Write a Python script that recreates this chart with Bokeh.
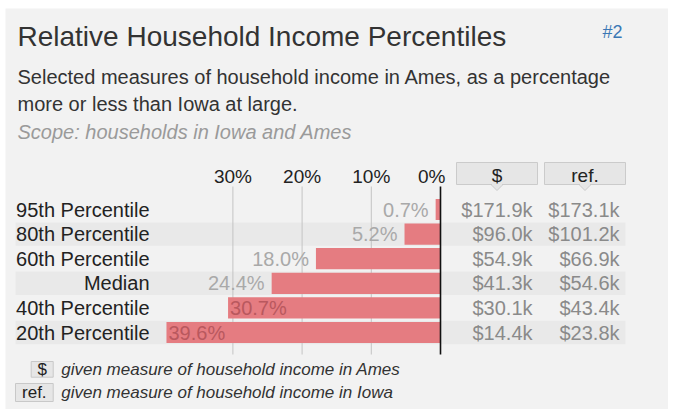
from bokeh.plotting import figure
from bokeh.models import Range1d, Label, ColumnDataSource
from bokeh.core.properties import value
from bokeh.embed import file_html
from bokeh.resources import INLINE

# ---------------- data ----------------
categories = ["95th Percentile", "80th Percentile", "60th Percentile",
              "Median", "40th Percentile", "20th Percentile"]
pct_less = [0.7, 5.2, 18.0, 24.4, 30.7, 39.6]          # % Ames below Iowa
ames_k = [171.9, 96.0, 54.9, 41.3, 30.1, 14.4]           # $ thousands, Ames
iowa_k = [173.1, 101.2, 66.9, 54.6, 43.4, 23.8]          # $ thousands, Iowa
ticks = [30, 20, 10, 0]

# ---------------- layout constants ----------------
W, H = 668, 409
ZERO_PX = 440.0
PX_PER_PCT = 6.92
ROW0_PY = 209.0
ROW_PX = 24.6
FONT = "Liberation Sans"
BG = "#f2f2f2"


def px2x(px):
    return (ZERO_PX - px) / PX_PER_PCT


def py2y(py):
    return (py - ROW0_PY) / ROW_PX


p = figure(width=W, height=H, output_backend="svg", toolbar_location=None,
           x_range=Range1d(px2x(0), px2x(W)), y_range=Range1d(py2y(H), py2y(0)),
           x_axis_type=None, y_axis_type=None, min_border=0,
           background_fill_color="white", border_fill_color="white", outline_line_color=None)
p.grid.visible = False

# panel
p.quad(left=px2x(5), right=px2x(W), top=py2y(8), bottom=py2y(H),
       fill_color=BG, line_color=None)

rows = list(range(len(categories)))

# alternating row bands
band_rows = [i for i in rows if i % 2 == 1]
p.hbar(y=band_rows, left=px2x(15), right=px2x(625), height=0.95,
       fill_color="#e9e9e9", line_color=None)

# gridlines
grid_ticks = [t for t in ticks if t != 0]
p.segment(x0=grid_ticks, x1=grid_ticks, y0=py2y(186), y1=py2y(354),
          line_color="#c4c4c4", line_width=1)

# bars
p.hbar(y=rows, left=0, right=pct_less, height=0.86,
       fill_color="#e57c81", line_color=None)

# zero line
p.segment(x0=[0], x1=[0], y0=py2y(186), y1=py2y(354), line_color="#111111", line_width=1.6)

# bar labels
THRESH = 30
out_src = ColumnDataSource(dict(
    x=[v for v in pct_less if v < THRESH],
    y=[i for i, v in zip(rows, pct_less) if v < THRESH],
    t=[f"{v:.1f}%" for v in pct_less if v < THRESH]))
in_src = ColumnDataSource(dict(
    x=[v for v in pct_less if v >= THRESH],
    y=[i for i, v in zip(rows, pct_less) if v >= THRESH],
    t=[f"{v:.1f}%" for v in pct_less if v >= THRESH]))
p.text(x="x", y="y", text="t", source=out_src, text_align="right", text_baseline="middle",
       x_offset=-7, text_font=value(FONT), text_font_size="20px", text_color="#a9a9a9")
p.text(x="x", y="y", text="t", source=in_src, text_align="left", text_baseline="middle",
       x_offset=2, text_font=value(FONT), text_font_size="20px", text_color="#b9585e")

# row labels
p.text(x=px2x(149), y=rows, text=categories, text_align="right", text_baseline="middle",
       text_font=value(FONT), text_font_size="20px", text_color="#222222")

# value columns
p.text(x=px2x(532), y=rows, text=[f"${v:.1f}k" for v in ames_k], text_align="right",
       text_baseline="middle", text_font=value(FONT), text_font_size="20px", text_color="#8a8a8a")
p.text(x=px2x(619), y=rows, text=[f"${v:.1f}k" for v in iowa_k], text_align="right",
       text_baseline="middle", text_font=value(FONT), text_font_size="20px", text_color="#8a8a8a")

# tick labels
p.text(x=grid_ticks, y=py2y(175.5), text=[f"{t}%" for t in grid_ticks], text_align="center",
       text_baseline="middle", text_font=value(FONT), text_font_size="19px",
       text_color="#222222")
p.text(x=[0], y=py2y(175.5), text=["0%"], text_align="right", x_offset=5,
       text_baseline="middle", text_font=value(FONT), text_font_size="19px",
       text_color="#222222")

# column header boxes with pointers
hdr_l = [456, 544]
hdr_r = [537, 625]
hdr_txt = ["$", "ref."]
p.quad(left=[px2x(v) for v in hdr_l], right=[px2x(v) for v in hdr_r],
       top=py2y(162), bottom=py2y(184), fill_color="#e6e6e6", line_color="#cbcbcb")
for l, r in zip(hdr_l, hdr_r):
    c = (l + r) / 2
    p.patch(x=[px2x(c - 6), px2x(c + 6), px2x(c)], y=[py2y(184), py2y(184), py2y(190)],
            fill_color="#e6e6e6", line_color="#cbcbcb")
    p.segment(x0=[px2x(c - 5)], x1=[px2x(c + 5)], y0=py2y(184), y1=py2y(184),
              line_color="#e6e6e6", line_width=1.5)
p.text(x=[px2x((l + r) / 2) for l, r in zip(hdr_l, hdr_r)], y=py2y(175), text=hdr_txt,
       text_align="center", text_baseline="middle", text_font=value(FONT),
       text_font_size="19px", text_color="#222222")

# legend boxes
p.quad(left=[px2x(30.7), px2x(15)], right=[px2x(52.7), px2x(52.7)],
       top=[py2y(361), py2y(383)], bottom=[py2y(376.7), py2y(401)],
       fill_color="#e6e6e6", line_color="#c8c8c8")
p.text(x=[px2x(41.7), px2x(33.8)], y=[py2y(369), py2y(392)], text=hdr_txt,
       text_align="center", text_baseline="middle", text_font=value(FONT),
       text_font_size="17px", text_color="#222222")
for yb, txt in [(369, "given measure of household income in Ames"),
                (392, "given measure of household income in Iowa")]:
    p.add_layout(Label(x=px2x(60.7), y=py2y(yb), text=txt, text_align="left",
                       text_baseline="middle", text_font=FONT, text_font_size="17px",
                       text_font_style="italic", text_color="#333333"))

# titles
p.add_layout(Label(x=px2x(17), y=py2y(36), text="Relative Household Income Percentiles",
                   text_align="left", text_baseline="middle", text_font=FONT,
                   text_font_size="28px", text_color="#333333"))
p.add_layout(Label(x=px2x(602), y=py2y(31), text="#2", text_align="left",
                   text_baseline="middle", text_font=FONT, text_font_size="18px",
                   text_color="#3b78b5"))
p.add_layout(Label(x=px2x(17), y=py2y(76),
                   text="Selected measures of household income in Ames, as a percentage",
                   text_align="left", text_baseline="middle", text_font=FONT,
                   text_font_size="20px", text_color="#333333"))
p.add_layout(Label(x=px2x(17), y=py2y(103.5), text="more or less than Iowa at large.",
                   text_align="left", text_baseline="middle", text_font=FONT,
                   text_font_size="20px", text_color="#333333"))
p.add_layout(Label(x=px2x(17), y=py2y(131), text="Scope: households in Iowa and Ames",
                   text_align="left", text_baseline="middle", text_font=FONT,
                   text_font_size="20px", text_font_style="italic", text_color="#9a9a9a"))

open("out.html", "w").write(file_html(p, INLINE))
